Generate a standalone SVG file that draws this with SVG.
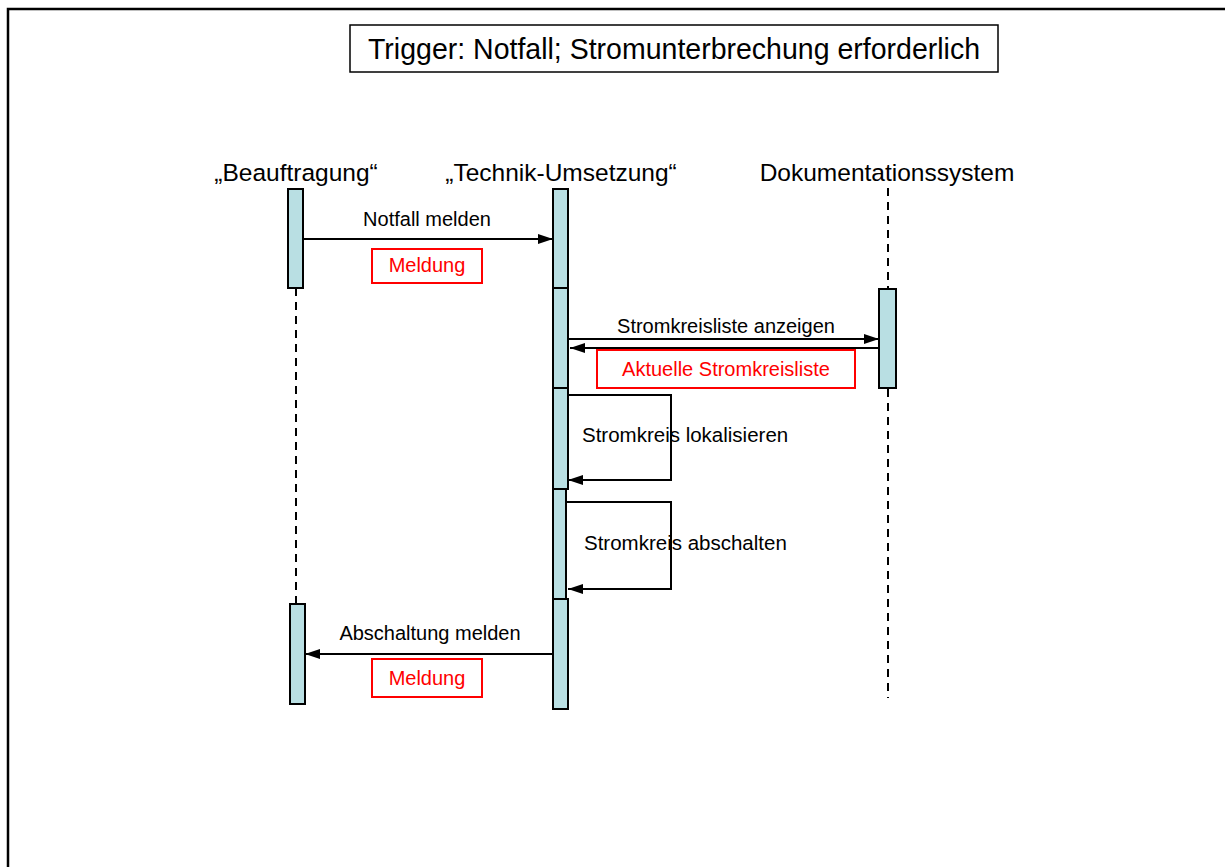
<svg xmlns="http://www.w3.org/2000/svg" width="1225" height="867" viewBox="0 0 1225 867">
<style>
text{font-family:"Liberation Sans",Arial,sans-serif;fill:#000}
.act{fill:#b9dfe3;stroke:#000;stroke-width:2}
.life{stroke:#000;stroke-width:2;stroke-dasharray:8 6;fill:none}
.msg{stroke:#000;stroke-width:2;fill:none}
.note{fill:#fff;stroke:#ff0000;stroke-width:2}
.red{fill:#ff0000}
</style>
<defs>
<marker id="ah" viewBox="0 0 15 10" refX="15" refY="5" markerWidth="15" markerHeight="10" markerUnits="userSpaceOnUse" orient="auto">
<path d="M0,0 L15,5 L0,10 Z" fill="#000"/>
</marker>
</defs>
<rect x="0" y="0" width="1225" height="867" fill="#fff"/>
<rect x="8" y="9" width="1240" height="880" fill="none" stroke="#000" stroke-width="2.5"/>

<g id="trigger">
<rect x="350" y="25" width="648" height="47" fill="#fff" stroke="#000" stroke-width="1.5"/>
<text x="674" y="59" font-size="29" text-anchor="middle" textLength="612" lengthAdjust="spacingAndGlyphs">Trigger: Notfall; Stromunterbrechung erforderlich</text>
</g>

<g id="beauftragung">
<text x="296" y="181" font-size="24.5" text-anchor="middle">„Beauftragung“</text>
<line class="life" x1="296" y1="288" x2="296" y2="604"/>
<rect class="act" x="288" y="189" width="15" height="99"/>
<rect class="act" x="290" y="604" width="15" height="100"/>
</g>

<g id="technik">
<text x="561" y="181" font-size="24.5" text-anchor="middle">„Technik-Umsetzung“</text>
<rect class="act" x="553" y="189" width="15" height="99"/>
<rect class="act" x="553" y="288" width="15" height="100"/>
<rect class="act" x="553" y="388" width="15" height="101"/>
<rect class="act" x="553" y="489" width="13" height="110"/>
<rect class="act" x="553" y="599" width="15" height="110"/>
</g>

<g id="dokumentation">
<text x="887" y="181" font-size="24.5" text-anchor="middle">Dokumentationssystem</text>
<line class="life" x1="888" y1="188" x2="888" y2="289"/>
<line class="life" x1="888" y1="389" x2="888" y2="698"/>
<rect class="act" x="879" y="289" width="17" height="99"/>
</g>

<g id="connectors">
<line class="msg" x1="303" y1="239" x2="553" y2="239" marker-end="url(#ah)"/>
<line class="msg" x1="568" y1="339" x2="879" y2="339" marker-end="url(#ah)"/>
<line class="msg" x1="879" y1="348" x2="570" y2="348" marker-end="url(#ah)"/>
<polyline class="msg" points="568,395 671,395 671,480 568,480" marker-end="url(#ah)"/>
<polyline class="msg" points="566,502 671,502 671,589 568,589" marker-end="url(#ah)"/>
<line class="msg" x1="553" y1="654" x2="305" y2="654" marker-end="url(#ah)"/>
</g>

<g id="labels">
<text x="427" y="226" font-size="20" text-anchor="middle">Notfall melden</text>
<text x="726" y="333" font-size="20" text-anchor="middle">Stromkreisliste anzeigen</text>
<text x="582" y="442" font-size="20.5">Stromkreis lokalisieren</text>
<text x="584" y="550" font-size="20.5">Stromkreis abschalten</text>
<text x="430" y="640" font-size="20" text-anchor="middle">Abschaltung melden</text>
</g>

<g id="note-meldung-1">
<rect class="note" x="372" y="249" width="110" height="34"/>
<text class="red" x="427" y="272" font-size="20" text-anchor="middle">Meldung</text>
</g>
<g id="note-stromkreisliste">
<rect class="note" x="597" y="350" width="258" height="38"/>
<text class="red" x="726" y="376" font-size="20" text-anchor="middle">Aktuelle Stromkreisliste</text>
</g>
<g id="note-meldung-2">
<rect class="note" x="372" y="659" width="110" height="38"/>
<text class="red" x="427" y="685" font-size="20" text-anchor="middle">Meldung</text>
</g>
</svg>
